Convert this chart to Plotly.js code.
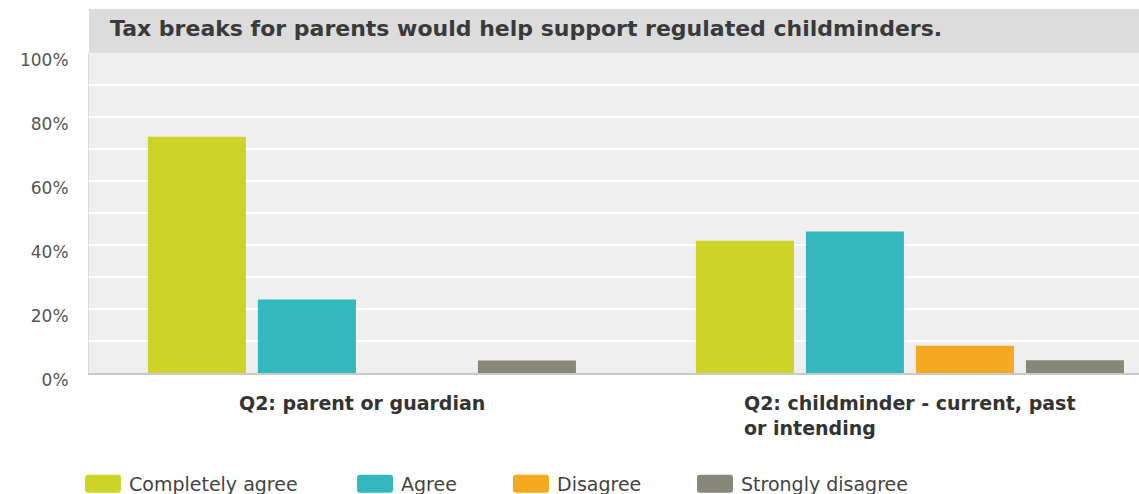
<!DOCTYPE html>
<html>
<head>
<meta charset="utf-8">
<script src="https://cdn.plot.ly/plotly-3.0.1.min.js"></script>
<style>
  html, body { margin: 0; padding: 0; background: #fff; }
  #chart { width: 1139px; height: 494px; }
</style>
</head>
<body>
<div id="chart"></div>
<script>
// ---- data ----
const chartTitle = "Tax breaks for parents would help support regulated childminders.";
const categories = ["Q2: parent or guardian", "Q2: childminder - current, past<br>or intending"];
const seriesNames = ["Completely agree", "Agree", "Disagree", "Strongly disagree"];
const seriesColors = ["#cdd327", "#33b9bd", "#f4a920", "#878879"];
const completelyAgree = [73.8, 41.3];
const agree = [23.0, 44.2];
const disagree = [0, 8.5];
const stronglyDisagree = [3.9, 4.0];
const yTickVals = [0, 20, 40, 60, 80, 100];
const yTickText = ["0%", "20%", "40%", "60%", "80%", "100%"];

const seriesValues = [completelyAgree, agree, disagree, stronglyDisagree];
const legendIds = ["legend", "legend2", "legend3", "legend4"];
const legendX = [83, 355, 511, 695];

const catIdx = categories.map((c, i) => i);

const traces = seriesNames.map((name, i) => ({
  type: "bar",
  name: name,
  x: catIdx,
  y: seriesValues[i],
  marker: { color: seriesColors[i], line: { width: 0 } },
  legend: legendIds[i],
  hoverinfo: "skip"
}));

const legendFont = { family: "DejaVu Sans", size: 19, color: "#444444" };
function legendCfg(px) {
  return {
    xref: "container", yref: "container",
    x: px / 1139, y: 1 - 484 / 494,
    xanchor: "left", yanchor: "middle",
    orientation: "h",
    bgcolor: "rgba(0,0,0,0)",
    borderwidth: 0,
    itemwidth: 36,
    font: legendFont,
    itemclick: false, itemdoubleclick: false
  };
}

const layout = {
  width: 1139,
  height: 494,
  margin: { l: 89, r: 0, t: 53, b: 121, pad: 0 },
  paper_bgcolor: "#ffffff",
  plot_bgcolor: "#efefef",
  barmode: "group",
  bargap: 0.197,
  bargroupgap: 0.109,
  title: {
    text: "<b>" + chartTitle + "</b>",
    xref: "container", yref: "container",
    x: 110 / 1139, xanchor: "left",
    y: 1 - 28 / 494, yanchor: "middle",
    font: { family: "DejaVu Sans", size: 22, color: "#3a3a3a" }
  },
  xaxis: {
    type: "linear",
    range: [-0.498, 1.418],
    showticklabels: false,
    showgrid: false,
    zeroline: false,
    showline: true,
    linecolor: "#c9c9c9",
    linewidth: 2,
    ticks: "",
    fixedrange: true
  },
  yaxis: {
    range: [0, 100],
    tickvals: yTickVals,
    ticktext: yTickText,
    ticks: "",
    ticklabelstandoff: 16,
    ticklabelshift: 7,
    tickfont: { family: "DejaVu Sans", size: 17, color: "#555555" },
    showgrid: true,
    gridcolor: "#ffffff",
    gridwidth: 2,
    minor: { tickvals: [10, 30, 50, 70, 90], showgrid: true, gridcolor: "#ffffff", gridwidth: 2 },
    zeroline: false,
    showline: true,
    linecolor: "#dddddd",
    linewidth: 1,
    fixedrange: true
  },
  shapes: [{
    type: "rect", xref: "paper", yref: "paper",
    x0: 0, x1: 1, y0: 1, y1: 1 + 44 / 320,
    fillcolor: "#dcdcdc", line: { width: 0 }, layer: "below"
  }],
  annotations: categories.map((c, i) => ({
    x: i, y: 0, xref: "x", yref: "paper",
    xanchor: "center", yanchor: "top", yshift: -17,
    align: "left",
    showarrow: false,
    text: "<b>" + c + "</b>",
    font: { family: "DejaVu Sans", size: 19, color: "#333333" }
  })),
  showlegend: true,
  hovermode: false
};
legendIds.forEach((id, i) => { layout[id] = legendCfg(legendX[i]); });

Plotly.newPlot("chart", traces, layout, { displayModeBar: false, staticPlot: true }).then(gd => {
  gd.querySelectorAll(".legendpoints path").forEach(p => {
    p.setAttribute("d", "M-18,-9H12Q15,-9 15,-6V6Q15,9 12,9H-18Q-21,9 -21,6V-6Q-21,-9 -18,-9Z");
  });
});
</script>
</body>
</html>
